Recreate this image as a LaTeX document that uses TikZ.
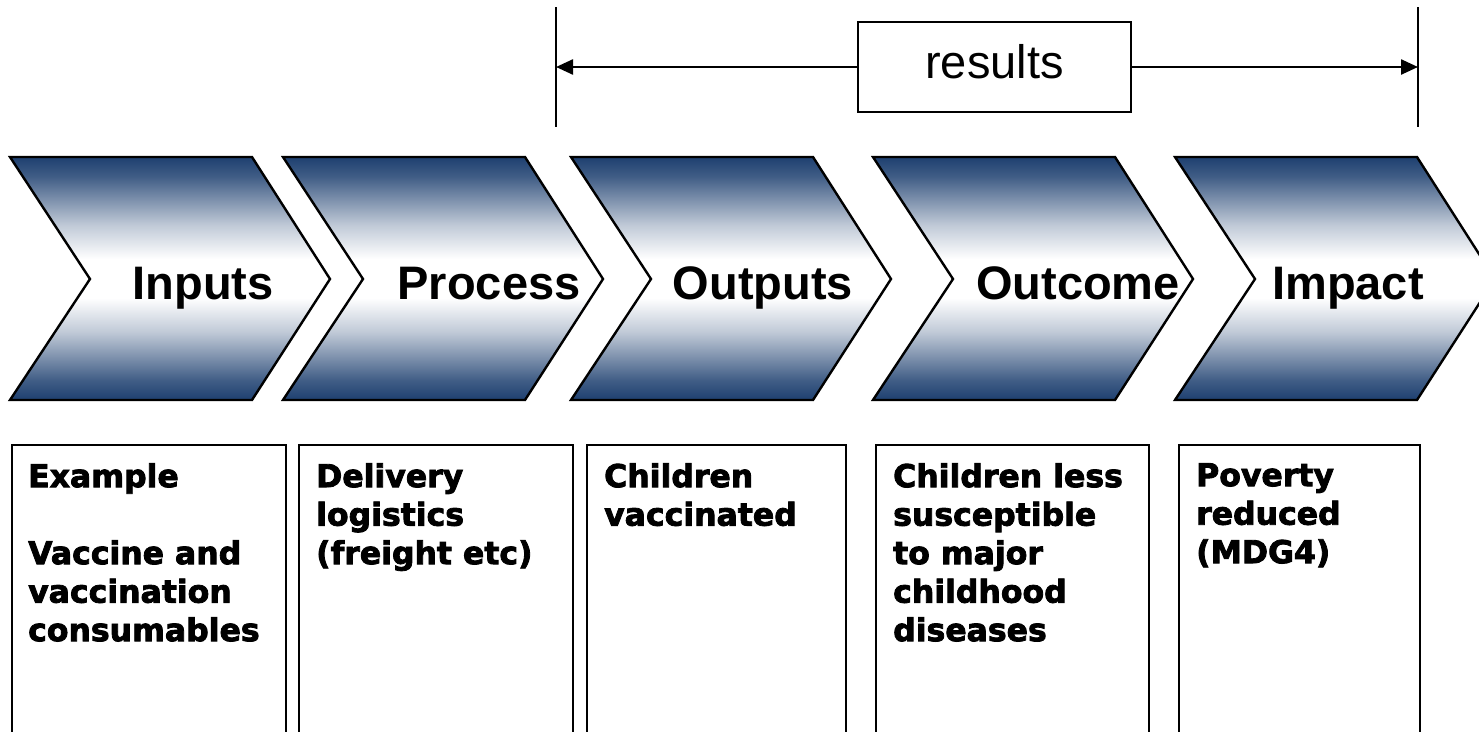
\documentclass[tikz,border=0pt]{standalone}
\usepackage{fontspec}
\setmainfont{Liberation Sans}
\newfontfamily\boxfont{DejaVu Sans}[BoldFont={DejaVu Sans Bold},BoldFeatures={FakeBold=2.6}]
\usetikzlibrary{arrows.meta}
\definecolor{navy}{RGB}{30,64,112}
% dark edges, a wide white band in the middle
\pgfdeclareverticalshading{chevshade}{100bp}{%
  color(0bp)=(navy); color(25bp)=(navy); color(29bp)=(navy!85!white);
  color(39bp)=(navy!28!white); color(46bp)=(white); color(54bp)=(white);
  color(61bp)=(navy!28!white); color(71bp)=(navy!85!white);
  color(75bp)=(navy); color(100bp)=(navy)}
\begin{document}
\begin{tikzpicture}[x=1pt,y=-1pt,
  chev/.style={draw=black,line width=2.4pt,line join=miter,shading=chevshade},
  chevlabel/.style={anchor=base,inner sep=0pt,font=\fontsize{47}{56}\selectfont\bfseries},
  infobox/.style={draw=black,line width=2.4pt,anchor=north west,inner sep=0pt},
  infotext/.style={anchor=north west,inner sep=0pt,align=left,
    font=\boxfont\bfseries\fontsize{31.5}{38.5}\selectfont},
  span/.style={line width=2.4pt},
  spanarrow/.style={line width=2.4pt,-{Triangle[length=17pt,width=15pt]}}
]
\useasboundingbox (0,0) rectangle (1479,731);
\clip (0,0) rectangle (1479,731);

% one chevron: left edge x, body width 242, tip/notch depth 80
\newcommand{\chevronat}[1]{%
  \path[chev] (#1,157) -- ++(242,0) -- ++(78,122) -- ++(-78,121)
    -- ++(-242,0) -- ++(80,-121) -- cycle;}

\chevronat{10}
\chevronat{283}
\chevronat{571}
\chevronat{873}
\chevronat{1175}

\node[chevlabel] (inputs)  at (203,299)  {Inputs};
\node[chevlabel] (process) at (489,299)  {Process};
\node[chevlabel] (outputs) at (763,299)  {Outputs};
\node[chevlabel] (outcome) at (1078,299) {Outcome};
\node[chevlabel] (impact)  at (1348,299) {Impact};

% the span of the results
\coordinate (rtopL) at (556,7);
\coordinate (rbotL) at (556,127);
\coordinate (rtopR) at (1418,7);
\coordinate (rbotR) at (1418,127);
\coordinate (rendL) at (556,67);
\coordinate (rendR) at (1418,67);
\draw[span] (rtopL) -- (rbotL);
\draw[span] (rtopR) -- (rbotR);
\node[draw=black,line width=1.8pt,minimum width=273pt,minimum height=90pt,
  text height=34pt,text depth=12pt,inner sep=0pt,
  font=\fontsize{47}{56}\selectfont] (results) at (994.5,67) {results};
\draw[spanarrow] (results.west) -- (rendL);
\draw[spanarrow] (results.east) -- (rendR);

% example boxes below the chevrons
\node[infobox,minimum width=274pt,minimum height=330pt] (b1) at (11,444) {};
\node[infobox,minimum width=274pt,minimum height=330pt] (b2) at (298,444) {};
\node[infobox,minimum width=259pt,minimum height=330pt] (b3) at (586,444) {};
\node[infobox,minimum width=273pt,minimum height=330pt] (b4) at (875,444) {};
\node[infobox,minimum width=241pt,minimum height=330pt] (b5) at (1178,444) {};

\node[infotext] (t1) at ([xshift=17pt,yshift=-19pt]b1.north west)
  {Example\\[38.5pt]Vaccine and\\vaccination\\consumables};
\node[infotext] (t2) at ([xshift=18pt,yshift=-19pt]b2.north west)
  {Delivery\\logistics\\(freight etc)};
\node[infotext] (t3) at ([xshift=18pt,yshift=-19pt]b3.north west)
  {Children\\vaccinated};
\node[infotext] (t4) at ([xshift=18pt,yshift=-19pt]b4.north west)
  {Children less\\susceptible\\to major\\childhood\\diseases};
\node[infotext] (t5) at ([xshift=18pt,yshift=-19pt]b5.north west)
  {Poverty\\reduced\\(MDG4)};
\end{tikzpicture}
\end{document}
